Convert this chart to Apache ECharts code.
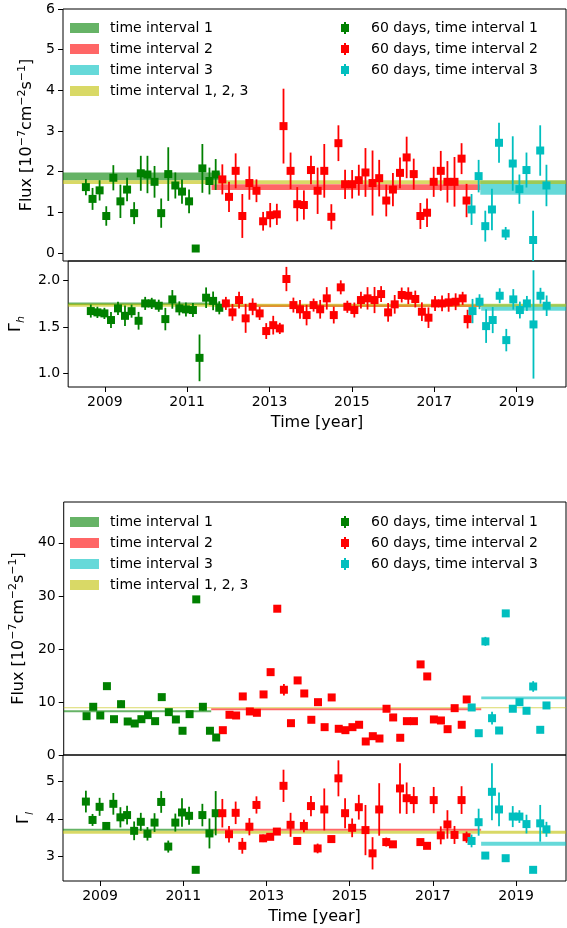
<!DOCTYPE html>
<html>
<head>
<meta charset="utf-8">
<script src="https://cdn.jsdelivr.net/npm/echarts@6/dist/echarts.min.js"></script>
<style>
html,body{margin:0;padding:0;background:#fff;}
#c{width:567px;height:928px;}
</style>
</head>
<body>
<div id="c"></div>
<script>
// ---------------- DATA ----------------
const timeG = [2008.66,2008.82,2008.99,2009.15,2009.32,2009.49,2009.65,2009.82,2009.98,2010.14,2010.31,2010.47,2010.64,2010.81,2010.97,2011.14,2011.30,2011.46,2011.63,2011.78];
const timeR = [2011.94,2012.10,2012.26,2012.42,2012.59,2012.76,2012.92,2013.09,2013.25,2013.41,2013.58,2013.74,2013.90,2014.07,2014.23,2014.39,2014.56,2014.73,2014.89,2015.06,2015.22,2015.38,2015.55,2015.71,2015.88,2016.04,2016.21,2016.37,2016.54,2016.70,2016.86,2017.02,2017.19,2017.35,2017.52,2017.69,2017.81];
const timeC = [2017.93,2018.10,2018.26,2018.42,2018.59,2018.75,2018.92,2019.08,2019.25,2019.41,2019.58,2019.73];

// panel 1: high-energy flux
const fluxH_G = [1.62,1.33,1.54,0.91,1.85,1.27,1.56,0.98,1.96,1.93,1.75,0.98,1.94,1.66,1.51,1.27,0.11,2.08,1.77,1.93];
const fluxH_Gerr = [0.2,0.27,0.25,0.24,0.31,0.41,0.29,0.27,0.43,0.46,0.39,0.36,0.66,0.32,0.3,0.29,0.0,0.6,0.33,0.38];
const fluxH_R = [1.81,1.38,2.02,0.91,1.72,1.53,0.78,0.93,0.95,3.12,2.02,1.20,1.18,2.04,1.53,2.02,0.89,2.70,1.69,1.69,1.79,1.98,1.72,1.84,1.29,1.56,1.97,2.35,1.94,0.91,0.99,1.75,2.02,1.75,1.75,2.32,1.29];
const fluxH_Rerr = [0.37,0.37,0.43,0.54,0.41,0.28,0.23,0.3,0.26,0.92,0.45,0.42,0.36,0.35,0.57,0.66,0.31,0.44,0.36,0.35,0.38,0.6,0.8,0.45,0.39,0.41,0.38,0.51,0.38,0.32,0.35,0.37,0.49,0.51,0.61,0.38,0.41];
const fluxH_C = [1.07,1.89,0.66,1.07,2.71,0.48,2.20,1.57,2.04,0.32,2.52,1.66];
const fluxH_Cerr = [0.38,0.4,0.38,0.51,0.49,0.16,0.67,0.36,0.43,0.72,0.62,0.51];

// panel 2: high-energy index
const gamH_G = [1.671,1.657,1.646,1.575,1.70,1.62,1.67,1.567,1.753,1.753,1.728,1.585,1.796,1.70,1.689,1.682,1.17,1.814,1.78,1.706];
const gamH_Gerr = [0.07,0.06,0.06,0.085,0.07,0.11,0.07,0.095,0.07,0.06,0.065,0.12,0.1,0.075,0.075,0.075,0.25,0.11,0.1,0.07];
const gamH_R = [1.753,1.657,1.789,1.593,1.717,1.646,1.457,1.52,1.485,2.014,1.735,1.69,1.628,1.735,1.69,1.807,1.628,1.925,1.717,1.682,1.789,1.807,1.789,1.853,1.657,1.743,1.843,1.835,1.80,1.664,1.60,1.753,1.753,1.764,1.771,1.807,1.585];
const gamH_Rerr = [0.07,0.09,0.09,0.155,0.09,0.07,0.085,0.1,0.06,0.13,0.08,0.1,0.11,0.07,0.1,0.12,0.09,0.075,0.065,0.08,0.09,0.12,0.14,0.085,0.1,0.1,0.08,0.09,0.09,0.1,0.11,0.08,0.085,0.1,0.09,0.07,0.1];
const gamH_C = [1.671,1.771,1.51,1.575,1.835,1.36,1.796,1.682,1.753,1.528,1.835,1.728];
const gamH_Cerr = [0.13,0.08,0.18,0.14,0.08,0.12,0.11,0.09,0.08,0.58,0.085,0.11];

// panel 3: low-energy flux
const fluxL_G = [7.32,9.09,7.45,12.98,6.75,9.58,6.32,5.94,6.75,7.51,6.38,10.91,8.08,6.70,4.57,7.70,29.34,9.09,4.57,3.30];
const fluxL_Gerr = [0.5,0.6,0.5,0.6,0.5,0.7,0.5,0.5,0.5,0.5,0.5,0.6,0.5,0.5,0.5,0.5,0.4,0.7,0.5,0.5];
const fluxL_R = [4.68,7.58,7.45,11.04,8.21,7.96,11.42,15.62,27.58,12.30,6.0,14.06,11.6,6.64,9.96,5.25,10.85,4.94,4.68,5.25,5.70,2.55,3.55,3.11,8.72,7.08,3.25,6.38,6.38,17.08,14.81,6.70,6.51,4.87,8.83,5.70,10.47];
const fluxL_Rerr = [0.5,0.6,0.6,0.6,0.6,0.5,0.6,0.6,0.5,1.1,0.5,0.6,0.6,0.5,0.6,0.5,0.6,0.5,0.5,0.5,0.5,0.5,0.5,0.5,0.6,0.5,0.5,0.5,0.5,0.6,0.6,0.5,0.5,0.5,0.6,0.5,0.6];
const fluxL_C = [8.96,4.11,21.42,6.94,4.62,26.7,8.72,9.96,8.34,12.92,4.75,9.34];
const fluxL_Cerr = [0.6,0.5,0.85,1.2,0.5,0.6,0.6,0.6,0.6,1.0,0.5,0.6];

// panel 4: low-energy index
const gamL_G = [4.47,3.98,4.33,3.82,4.41,4.05,4.11,3.69,3.93,3.61,3.91,4.46,3.27,3.91,4.18,4.09,2.65,4.11,3.62,4.16];
const gamL_Gerr = [0.29,0.16,0.24,0.05,0.29,0.27,0.25,0.25,0.24,0.18,0.25,0.29,0.16,0.24,0.38,0.24,0.02,0.3,0.4,0.59];
const gamL_R = [4.16,3.60,4.17,3.29,3.80,4.38,3.49,3.53,3.67,4.89,3.85,3.42,3.82,4.35,3.22,4.26,3.47,5.09,4.16,3.77,4.32,3.71,3.09,4.26,3.39,3.33,4.82,4.56,4.51,3.39,3.29,4.51,3.57,3.86,3.58,4.51,3.52];
const gamL_Rerr = [0.38,0.22,0.3,0.21,0.23,0.23,0.1,0.08,0.08,0.43,0.32,0.08,0.17,0.27,0.13,0.56,0.08,0.48,0.4,0.25,0.33,0.67,0.43,0.7,0.12,0.08,0.67,0.42,0.35,0.08,0.08,0.35,0.24,0.38,0.24,0.37,0.15];
const gamL_C = [3.42,3.92,3.03,4.73,4.26,2.96,4.07,4.07,3.87,2.65,3.89,3.73];
const gamL_Cerr = [0.17,0.36,0.05,0.76,0.45,0.05,0.28,0.17,0.25,0.05,0.49,0.2];

// average bands: [t0, t1, low, high]  (interval 1, 2, 3, all)
const bandsFluxH = [[2008.11,2011.89,1.79,1.98],[2011.68,2018.14,1.55,1.69],[2018.14,2020.2,1.43,1.785],[2008.11,2020.2,1.695,1.79]];
const bandsGamH  = [[2008.11,2011.80,1.735,1.762],[2011.75,2018.14,1.714,1.742],[2018.14,2020.2,1.675,1.745],[2008.11,2020.2,1.717,1.748]];
const bandsFluxL = [[2008.11,2011.66,8.05,8.42],[2011.66,2018.16,8.45,8.8],[2018.16,2020.2,10.5,11.05],[2008.11,2020.2,8.82,9.02]];
const bandsGamL  = [[2008.11,2011.80,3.69,3.745],[2011.75,2018.16,3.69,3.745],[2018.16,2020.2,3.29,3.40],[2008.11,2020.2,3.61,3.69]];

const xTicks = [2009,2011,2013,2015,2017,2019];
const tickFluxH = [0,1,2,3,4,5,6];
const tickGamH = [1.0,1.5,2.0];
const tickFluxL = [0,10,20,30,40];
const tickGamL = [3,4,5];

const bandNames = ['time interval 1','time interval 2','time interval 3','time interval 1, 2, 3'];
const pointNames = ['60 days, time interval 1','60 days, time interval 2','60 days, time interval 3'];

// ---------------- STYLE ----------------
const FONT = 'DejaVu Sans';
const bandColors = ['rgba(0,128,0,0.6)','rgba(255,0,0,0.6)','rgba(0,191,191,0.6)','rgba(191,191,0,0.6)'];
const pointColors = ['#008000','#ff0000','#00bfbf'];
const XMIN = 2008.11, XMAX = 2020.2;

const grids = [
  {left:63, top:9, width:503, height:252},
  {left:63, top:261, width:503, height:126},
  {left:63, top:502, width:503, height:253},
  {left:63, top:755, width:503, height:126}
].map(g => Object.assign(g, {show:true, borderColor:'#000', borderWidth:1, backgroundColor:'transparent', containLabel:false}));

function xAx(i, showLabels) {
  return {
    type:'value', gridIndex:i, min:XMIN, max:XMAX,
    splitLine:{show:false}, axisLine:{show:false},
    axisTick:{show:showLabels, customValues:xTicks, length:5, lineStyle:{color:'#000', width:1}},
    axisLabel:{show:showLabels, customValues:xTicks, margin:8, fontSize:14, fontFamily:FONT, color:'#000', formatter:v => String(Math.round(v))},
    name: showLabels ? 'Time [year]' : '',
    nameLocation:'middle', nameGap:28,
    nameTextStyle:{fontSize:16, fontFamily:FONT, color:'#000'}
  };
}
const fluxName = '{n|Flux [10}{s|−7}{n|cm}{s|−2}{n|s}{s|−1}{n|]}';
const fluxRich = {
  n:{fontSize:16, fontFamily:FONT, color:'#000', lineHeight:22},
  s:{fontSize:11, fontFamily:FONT, color:'#000', lineHeight:10, verticalAlign:'top'}
};
function gamRich() {
  return {
    g:{fontSize:16, fontFamily:FONT, color:'#000', lineHeight:22},
    s:{fontSize:11, fontFamily:FONT, color:'#000', lineHeight:8, verticalAlign:'bottom', fontStyle:'italic'}
  };
}
function yAx(i, min, max, ticks, fmt, name, rich, gap) {
  return {
    type:'value', gridIndex:i, min:min, max:max,
    splitLine:{show:false}, axisLine:{show:false},
    axisTick:{show:true, customValues:ticks, length:5, lineStyle:{color:'#000', width:1}},
    axisLabel:{customValues:ticks, margin:8, fontSize:14, fontFamily:FONT, color:'#000', formatter:fmt},
    name:name, nameLocation:'middle', nameGap:gap, nameRotate:90,
    nameTextStyle:{rich:rich}
  };
}

function renderBand(params, api) {
  const cs = params.coordSys;
  const p0 = api.coord([api.value(0), api.value(3)]);
  const p1 = api.coord([api.value(1), api.value(2)]);
  const x0 = Math.max(p0[0], cs.x), x1 = Math.min(p1[0], cs.x + cs.width);
  const y0 = Math.max(p0[1], cs.y), y1 = Math.min(p1[1], cs.y + cs.height);
  return {type:'rect', shape:{x:x0, y:y0, width:x1 - x0, height:y1 - y0}, style:{fill:api.visual('color')}};
}
function renderPoint(params, api) {
  const cs = params.coordSys;
  const x = api.value(0), y = api.value(1), e = api.value(2);
  const c = api.coord([x, y]);
  const t = api.coord([x, y + e]);
  const b = api.coord([x, y - e]);
  const yt = Math.max(t[1], cs.y), yb = Math.min(b[1], cs.y + cs.height);
  const col = api.visual('color');
  const s = 8;
  return {type:'group', children:[
    {type:'line', shape:{x1:c[0], y1:yt, x2:c[0], y2:yb}, style:{stroke:col, lineWidth:1.8}},
    {type:'rect', shape:{x:c[0] - s/2, y:c[1] - s/2, width:s, height:s}, style:{fill:col}}
  ]};
}

const series = [];
function addPanel(i, bands, pts) {
  bands.forEach((b, k) => {
    series.push({
      type:'custom', name:bandNames[k], xAxisIndex:i, yAxisIndex:i,
      renderItem:renderBand, data:[b], encode:{x:[0,1], y:[2,3]},
      itemStyle:{color:bandColors[k]}, z:1, silent:true
    });
  });
  pts.forEach((p, k) => {
    series.push({
      type:'custom', name:pointNames[k], xAxisIndex:i, yAxisIndex:i,
      renderItem:renderPoint, data:p[0].map((t, j) => [t, p[1][j], p[2][j]]),
      encode:{x:0, y:1}, itemStyle:{color:pointColors[k]}, z:2, silent:true
    });
  });
}
addPanel(0, bandsFluxH, [[timeG, fluxH_G, fluxH_Gerr],[timeR, fluxH_R, fluxH_Rerr],[timeC, fluxH_C, fluxH_Cerr]]);
addPanel(1, bandsGamH,  [[timeG, gamH_G, gamH_Gerr],[timeR, gamH_R, gamH_Rerr],[timeC, gamH_C, gamH_Cerr]]);
addPanel(2, bandsFluxL, [[timeG, fluxL_G, fluxL_Gerr],[timeR, fluxL_R, fluxL_Rerr],[timeC, fluxL_C, fluxL_Cerr]]);
addPanel(3, bandsGamL,  [[timeG, gamL_G, gamL_Gerr],[timeR, gamL_R, gamL_Rerr],[timeC, gamL_C, gamL_Cerr]]);

const rectIcon = 'path://M0,0h29v10h-29z';
const errIcon = 'path://M3,0h2v2h3v8h-3v2h-2v-2h-3v-8h3z';
function legendBands(top) {
  return {
    orient:'vertical', left:70, top:top, padding:0, itemGap:5, itemWidth:41, itemHeight:10,
    selectedMode:false, symbolKeepAspect:true,
    textStyle:{fontSize:14, fontFamily:FONT, color:'#000', lineHeight:16},
    data: bandNames.map(n => ({name:n, icon:rectIcon}))
  };
}
function legendPoints(top) {
  return {
    orient:'vertical', left:341, top:top, padding:0, itemGap:5, itemWidth:42, itemHeight:12,
    selectedMode:false, symbolKeepAspect:true,
    textStyle:{fontSize:14, fontFamily:FONT, color:'#000', lineHeight:16},
    data: pointNames.map(n => ({name:n, icon:errIcon}))
  };
}

const option = {
  animation:false,
  backgroundColor:'#fff',
  grid:grids,
  xAxis:[xAx(0,false), xAx(1,true), xAx(2,false), xAx(3,true)],
  yAxis:[
    yAx(0, -0.197, 6, tickFluxH, v => String(v), fluxName, fluxRich, 21),
    yAx(1, 0.858, 2.207, tickGamH, v => v.toFixed(1), '{g|Γ}{s|h}', gamRich(), 37),
    yAx(2, 0, 47.7, tickFluxL, v => String(v), fluxName, fluxRich, 21),
    yAx(3, 2.352, 5.712, tickGamL, v => String(v), '{g|Γ}{s|l}', gamRich(), 24)
  ],
  legend:[legendBands(20), legendPoints(20), legendBands(514), legendPoints(514)],
  series:series
};
const chart = echarts.init(document.getElementById('c'), null, {renderer:'canvas'});
chart.setOption(option);
</script>
</body>
</html>
